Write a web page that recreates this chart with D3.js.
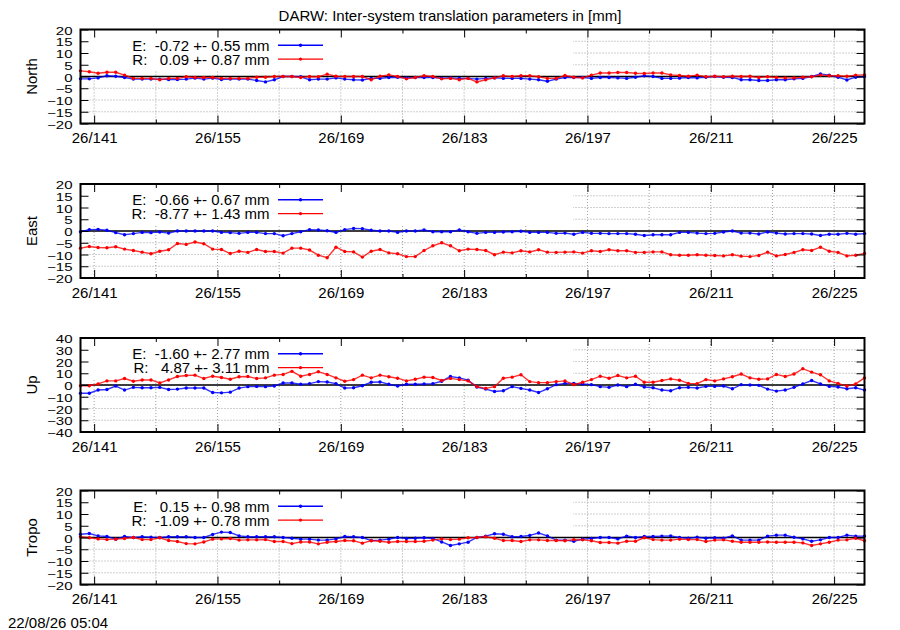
<!DOCTYPE html>
<html>
<head>
<meta charset="utf-8">
<script src="https://cdn.jsdelivr.net/npm/d3@7"></script>
<style>
  body { margin: 0; background: #fff; }
  svg text { font-family: "Liberation Sans", Arial, Helvetica, sans-serif; fill: #000; }
</style>
</head>
<body>
<svg id="chart" width="900" height="630"></svg>
<script>
// day of year 2026, one solution per day
const days = [
  139, 140, 141, 142, 143, 144, 145, 146, 147, 148, 149, 150, 151, 152, 153,
  154, 155, 156, 157, 158, 159, 160, 161, 162, 163, 164, 165, 166, 167, 168,
  169, 170, 171, 172, 173, 174, 175, 176, 177, 178, 179, 180, 181, 182, 183,
  184, 185, 186, 187, 188, 189, 190, 191, 192, 193, 194, 195, 196, 197, 198,
  199, 200, 201, 202, 203, 204, 205, 206, 207, 208, 209, 210, 211, 212, 213,
  214, 215, 216, 217, 218, 219, 220, 221, 222, 223, 224, 225, 226, 227, 228
];
const epochFraction = 0.45;
const majorTicks = [141, 155, 169, 183, 197, 211, 225];
const minorTicks = [148, 162, 176, 190, 204, 218];
const yearLabel = "26";

const panelNames = ["North", "East", "Up", "Tropo"];
const panelDomains = [[-20, 20], [-20, 20], [-40, 40], [-20, 20]];
const panelSteps = [5, 5, 10, 5];

const meanE = [-0.72, -0.66, -1.60, 0.15];
const sigmaE = [0.55, 0.67, 2.77, 0.98];
const meanR = [0.09, -8.77, 4.87, -1.09];
const sigmaR = [0.87, 1.43, 3.11, 0.78];

const northE = [
  -1.0, -1.0, -0.6, 0.3, 0.1, -0.4, -1.1, -1.1, -1.1, -1.1, -1.3, -1.3, -1.1, -0.7, -1.1,
  -0.7, -1.3, -1.1, -1.1, -1.1, -1.7, -2.3, -1.4, 0, 0, -0.1, -1.4, -1.1, -1.1, -0.6,
  -1.1, -1.4, -1.5, -0.8, -0.8, -0.4, -0.3, -0.6, -0.4, -0.4, -0.4, -0.7,
  -0.6, -0.8, -0.8, -1.1, -0.8, -0.6, -0.8, -0.8, -0.8, -1.1, -1.4, -2.0, -1.1, -0.4, -0.4,
  -0.4, -0.8, -0.4, -0.4, -0.6, -0.8, -0.3, 0.3, 0, -0.8, -0.8, -0.7, -0.4, -0.6, -0.3,
  0, -0.3, -0.4, -1.4, -1.4, -1.7, -1.7, -1.4, -1.4, -1.0, -0.8, 0, 1.1, 0.6, -0.3,
  -1.5, -0.3, 0
];
const northR = [
  2.4, 2.0, 1.4, 1.8, 1.8, 0.6, -0.8, -0.8, -0.8, -1.4, -0.8, -0.8, -0.1, -0.4, -0.4,
  -0.4, -0.8, -0.8, -0.8, -0.8, -0.3, -0.3, 0, 0, 0, -0.4, 0, -0.1, 1.0, 0.1,
  0, 0, 0, -1.4, 0.1, 0.7, 0, -1.0, -0.4, 0.3, 0, -1.0,
  -0.8, -1.4, -0.8, -2.3, -1.4, -0.6, 0.3, 0, 0.3, 0.3, -0.1, -0.8, -0.8, 0.4, -0.3,
  -0.6, 0.6, 1.5, 1.5, 1.7, 1.7, 1.4, 1.3, 1.5, 1.5, 0.7, 0.4, 0.1, 0.6, -0.1,
  0.1, -0.1, 0.1, 0, 0.1, -0.4, -0.1, -0.4, -0.6, -0.6, -0.3, -0.1, 0.6, 0.3, 0.3,
  0.1, 0.6, 0.7
];
const eastE = [
  -0.3, 0.6, 0.7, 0.3, -0.7, -1.6, -1.1, -0.6, -0.7, -0.4, -0.9, 0, 0, 0, 0,
  0, -0.6, -0.7, -1.0, -0.6, -0.6, -1.1, -1.1, -2.0, -1.1, -0.3, 0.6, 0.4, 0.1, -0.6,
  0.6, 1.1, 1.0, 0.3, 0, 0, -0.6, 0, 0, 0.4, -0.3, -0.3,
  -0.3, 0.4, -0.3, -1.0, -0.6, -0.6, -0.4, -0.3, -0.1, -0.6, -0.6, -0.6, -1.0, -0.9, -1.4,
  -0.6, -1.0, -1.0, -1.1, -1.1, -1.1, -1.4, -1.9, -1.6, -1.6, -1.6, -0.6, -0.6, -0.9, -1.1,
  -1.0, -0.4, 0, -0.9, -0.9, -1.3, -0.4, -0.9, -1.3, -1.1, -1.1, -1.3, -1.9, -1.4, -1.4,
  -1.0, -1.4, -1.1
];
const eastR = [
  -7.3, -6.6, -7.0, -7.1, -6.7, -7.7, -8.3, -9.0, -9.7, -8.6, -8.0, -5.3, -5.7, -4.7, -5.4,
  -7.7, -7.9, -9.6, -8.6, -9.1, -7.9, -8.7, -8.7, -9.4, -7.3, -7.3, -8.1, -10.3, -11.4, -6.9,
  -8.7, -8.9, -11.1, -8.6, -7.9, -9.3, -9.7, -10.9, -10.9, -8.3, -6.3, -5.0,
  -6.3, -8.4, -7.7, -7.9, -8.3, -10.1, -9.0, -9.3, -8.4, -8.9, -8.0, -9.0, -9.1, -9.0, -8.9,
  -9.4, -8.4, -8.7, -8.0, -8.4, -8.4, -9.1, -9.1, -8.9, -8.9, -10.1, -10.3, -10.3, -10.1, -10.3,
  -10.4, -10.6, -10.1, -10.7, -10.9, -10.4, -9.0, -10.6, -10.0, -9.1, -8.0, -8.3, -6.9, -8.6, -9.1,
  -10.6, -10.3, -9.6
];
const upE = [
  -7.0, -7.0, -4.3, -3.8, -0.9, -4.3, -2.0, -2.3, -2.3, -2.0, -3.8, -3.5, -2.6, -2.6, -2.6,
  -6.4, -6.7, -6.1, -2.6, -1.4, -1.2, -1.4, -0.9, 1.7, 1.7, 0.6, 1.2, 2.9, 2.6, 1.2,
  -2.6, -2.3, -0.6, 2.3, 2.6, 0.6, -0.9, 0.6, 0.6, 0.9, 1.2, 3.2,
  7.2, 6.1, 4.1, -1.7, -3.5, -5.5, -4.9, -1.4, -2.9, -4.3, -6.4, -3.2, 0.3, 1.4, 1.4,
  0.9, 0.3, -1.4, -2.0, 0, -1.4, 0.6, -1.7, -2.3, -4.3, -4.9, -2.3, -2.0, -2.6, -1.2,
  -1.2, -0.9, -3.2, 0.3, 0, -0.3, -3.5, -5.2, -4.3, -2.0, 0.9, 3.8, 0.9, -1.2, -1.7,
  -3.2, -2.3, -4.3
];
const upR = [
  -0.6, -0.6, 0.9, 3.5, 3.5, 5.5, 3.2, 4.3, 4.3, 1.7, 4.3, 7.2, 8.1, 8.4, 5.5,
  7.5, 6.4, 4.9, 7.0, 7.2, 5.5, 6.1, 8.4, 9.0, 11.6, 7.5, 9.0, 11.3, 9.0, 6.1,
  3.2, 4.6, 8.4, 6.1, 8.4, 7.0, 5.8, 3.5, 4.9, 6.7, 6.4, 3.8,
  5.6, 4.6, 3.5, -1.4, -2.9, -1.4, 5.8, 6.7, 8.7, 2.9, 2.0, 2.0, 2.9, 3.5, 0.3,
  2.3, 4.6, 7.5, 5.8, 8.1, 6.1, 7.5, 2.3, 2.3, 3.8, 5.2, 4.1, 1.4, 1.2, 4.6,
  3.5, 5.2, 7.0, 9.3, 6.1, 4.9, 5.2, 9.0, 7.2, 9.3, 13.9, 11.0, 8.7, 3.5, 1.4,
  -0.9, 0.9, 6.1
];
const tropoE = [
  1.4, 1.7, 0.7, 0.4, -0.7, 0.4, 0, 0.3, 0.1, 0, 0.3, 0.3, 0.3, 0, 0,
  1.3, 2.3, 2.1, 0.7, 0.3, 0.3, 0.3, 0.3, 0, -0.3, -0.7, -0.7, -1.1, -1.1, -0.6,
  0.4, 0.3, 0, -1.3, -1.1, -0.7, 0, -0.4, -0.3, -0.1, -0.4, -1.9,
  -3.4, -2.7, -2.0, 0, 0.6, 1.6, 1.4, 0.3, 0.4, 0.9, 1.9, 0.7, -1.1, -1.1, -1.6,
  -0.7, -0.4, 0, 0, -0.6, 0.6, 0, 0.4, 0.4, 0.6, 0.7, 0, -0.3, 0.1, -0.3,
  -0.1, -0.3, 0.7, -1.1, -1.1, -1.1, 0.6, 1.0, 1.0, 0.1, -0.6, -1.6, -1.0, 0, 0,
  1.0, 0.6, 0.6
];
const tropoR = [
  0.3, -0.1, -0.6, -0.9, -0.7, -0.4, 0, -0.9, -0.9, -0.1, -1.3, -1.7, -2.6, -2.7, -1.9,
  -0.7, -0.6, -0.4, -1.1, -1.0, -1.0, -0.9, -1.7, -1.7, -2.6, -1.9, -1.9, -2.7, -2.0, -1.7,
  -1.3, -1.4, -2.4, -1.4, -1.6, -2.0, -1.7, -1.7, -1.7, -1.6, -1.1, -0.6,
  -0.9, -0.7, -0.1, 0, 0.3, -0.3, -1.3, -1.3, -1.7, -1.0, -1.0, -1.3, -1.3, -1.4, -0.9,
  -1.0, -1.4, -2.1, -2.1, -2.4, -1.6, -1.6, -0.1, -0.9, -1.1, -1.1, -0.7, -0.9, -0.9, -1.7,
  -1.1, -1.0, -1.6, -2.0, -2.0, -2.0, -1.9, -2.0, -2.0, -2.0, -2.3, -3.4, -2.7, -2.0, -1.1,
  -1.0, -0.3, -1.4
];
const seriesE = [northE, eastE, upE, tropoE];
const seriesR = [northR, eastR, upR, tropoR];

const titleText = "DARW: Inter-system translation parameters in [mm]";
const stampText = "22/08/26 05:04";

/***
 * Layout
 */
const svg = d3.select("#chart");
const plotLeft = 80.5, plotRight = 864.5;
const panelTops = [29.5, 184, 338, 490.5];
const panelHeight = 94;
const keyBottom = 41, keyRight = 573;
const colorE = "#0000ff", colorR = "#ff0000";
const fontSize = 15;

const x = d3.scaleLinear()
  .domain([days[0] + epochFraction, days[days.length - 1] + epochFraction])
  .range([plotLeft, plotRight]);

const fmt = v => {
  const s = v.toFixed(2);
  return " ".repeat(Math.max(0, 6 - s.length)) + s;
};

svg.append("text")
  .attr("x", 450).attr("y", 20.5)
  .attr("text-anchor", "middle")
  .style("font-size", fontSize + "px")
  .text(titleText);

panelNames.forEach((name, p) => {
  const g = svg.append("g").attr("transform", `translate(0,${panelTops[p]})`);
  const [y0, y1] = panelDomains[p];
  const y = d3.scaleLinear().domain([y0, y1]).range([panelHeight, 0]);
  const yTicks = d3.range(y0, y1 + 0.001, panelSteps[p]);
  const xGrid = majorTicks.concat(minorTicks);

  // grid
  const grid = g.append("g")
    .attr("stroke", "#a0a0a0")
    .attr("stroke-width", 1)
    .attr("stroke-dasharray", "1,2");
  grid.selectAll("line.h")
    .data(yTicks.filter(t => t !== y0 && t !== y1))
    .join("line")
    .attr("class", "h")
    .attr("x1", plotLeft).attr("x2", plotRight)
    .attr("y1", d => y(d)).attr("y2", d => y(d));
  grid.selectAll("line.v")
    .data(xGrid)
    .join("line")
    .attr("class", "v")
    .attr("x1", d => x(d)).attr("x2", d => x(d))
    .attr("y1", 0).attr("y2", panelHeight);

  // opaque key box
  g.append("rect")
    .attr("x", plotLeft + 1).attr("y", 1)
    .attr("width", keyRight - plotLeft - 1).attr("height", keyBottom - 1)
    .attr("fill", "#fff");

  // zero axis
  g.append("line")
    .attr("x1", plotLeft).attr("x2", plotRight)
    .attr("y1", y(0)).attr("y2", y(0))
    .attr("stroke", "#000").attr("stroke-width", 1.5);

  // series
  const line = d3.line()
    .x((d, i) => x(days[i] + epochFraction))
    .y(d => y(d));
  [[seriesE[p], colorE], [seriesR[p], colorR]].forEach(([vals, col]) => {
    g.append("path")
      .attr("d", line(vals))
      .attr("fill", "none")
      .attr("stroke", col)
      .attr("stroke-width", 1.4)
      .attr("stroke-opacity", 0.8);
    g.append("g").selectAll("circle")
      .data(vals)
      .join("circle")
      .attr("cx", (d, i) => x(days[i] + epochFraction))
      .attr("cy", d => y(d))
      .attr("r", 1.7)
      .attr("fill", col);
  });

  // key
  const keyRows = [
    ["E: " + fmt(meanE[p]) + " +- " + sigmaE[p].toFixed(2) + " mm", colorE],
    ["R: " + fmt(meanR[p]) + " +- " + sigmaR[p].toFixed(2) + " mm", colorR]
  ];
  keyRows.forEach(([label, col], k) => {
    const cy = 15.8 + k * 13.8;
    g.append("text")
      .attr("x", 269.5).attr("y", cy + 5.4)
      .attr("text-anchor", "end")
      .attr("xml:space", "preserve")
      .style("white-space", "pre")
      .style("font-size", fontSize + "px")
      .text(label);
    g.append("line")
      .attr("x1", 278).attr("x2", 323)
      .attr("y1", cy).attr("y2", cy)
      .attr("stroke", col).attr("stroke-width", 1.4);
    g.append("circle")
      .attr("cx", 300.5).attr("cy", cy).attr("r", 1.7)
      .attr("fill", col);
  });

  // axes
  const yLeft = g.append("g")
    .attr("transform", `translate(${plotLeft},0)`)
    .call(d3.axisLeft(y).tickValues(yTicks).tickSize(-8).tickPadding(8));
  yLeft.selectAll("text")
    .style("font-size", fontSize + "px")
    .attr("dy", "0.45em")
    .attr("transform", "scale(1,0.7)");

  g.append("g")
    .attr("transform", `translate(${plotRight},0)`)
    .call(d3.axisRight(y).tickValues(yTicks).tickSize(-8).tickFormat(""));

  const xBottom = g.append("g")
    .attr("transform", `translate(0,${panelHeight})`)
    .call(d3.axisBottom(x).tickValues(majorTicks).tickSize(-8).tickPadding(9)
      .tickFormat(t => yearLabel + "/" + t));
  xBottom.selectAll("text").style("font-size", fontSize + "px");

  g.append("g")
    .attr("transform", `translate(0,${panelHeight})`)
    .call(d3.axisBottom(x).tickValues(minorTicks).tickSize(-4).tickFormat(""));
  g.append("g")
    .call(d3.axisTop(x).tickValues(majorTicks).tickSize(-8).tickFormat(""));
  g.append("g")
    .call(d3.axisTop(x).tickValues(minorTicks).tickSize(-4).tickFormat(""));

  g.selectAll(".domain").remove();
  g.selectAll(".tick line").attr("stroke", "#000");
  g.selectAll(".tick text").attr("fill", "#000").style("font-family", null);

  // border
  g.append("rect")
    .attr("x", plotLeft).attr("y", 0)
    .attr("width", plotRight - plotLeft).attr("height", panelHeight)
    .attr("fill", "none")
    .attr("stroke", "#000")
    .attr("stroke-width", 2);

  // axis label
  g.append("text")
    .attr("transform", `translate(37,${panelHeight / 2}) rotate(-90)`)
    .attr("text-anchor", "middle")
    .style("font-size", fontSize + "px")
    .text(name);
});

svg.append("text")
  .attr("x", 8).attr("y", 628)
  .style("font-size", fontSize + "px")
  .text(stampText);
</script>
</body>
</html>
